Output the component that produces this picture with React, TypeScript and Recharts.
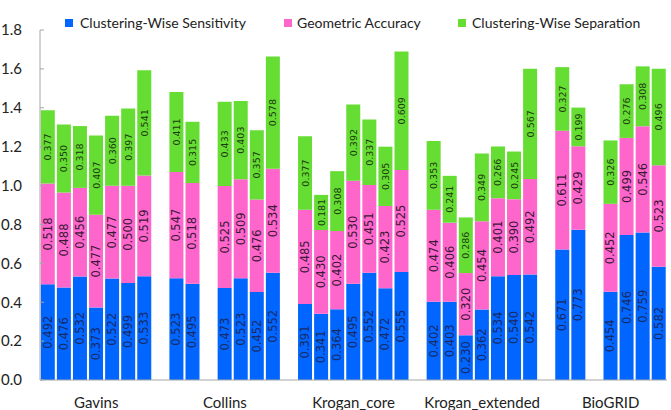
import React from 'react';
import { BarChart, Bar, XAxis, YAxis, LabelList, Legend } from 'recharts';

const groups = ['Gavins', 'Collins', 'Krogan_core', 'Krogan_extended', 'BioGRID'];

const sensitivity: (number | null)[][] = [
  [0.492, 0.476, 0.532, 0.373, 0.522, 0.499, 0.533],
  [0.523, 0.495, null, 0.473, 0.523, 0.452, 0.552],
  [0.391, 0.341, 0.364, 0.495, 0.552, 0.472, 0.555],
  [0.402, 0.403, 0.230, 0.362, 0.534, 0.540, 0.542],
  [0.671, 0.773, null, 0.454, 0.746, 0.759, 0.582],
];

const accuracy: (number | null)[][] = [
  [0.518, 0.488, 0.456, 0.477, 0.477, 0.500, 0.519],
  [0.547, 0.518, null, 0.525, 0.509, 0.476, 0.534],
  [0.485, 0.430, 0.402, 0.530, 0.451, 0.423, 0.525],
  [0.474, 0.406, 0.320, 0.454, 0.401, 0.390, 0.492],
  [0.611, 0.429, null, 0.452, 0.499, 0.546, 0.523],
];

const separation: (number | null)[][] = [
  [0.377, 0.350, 0.318, 0.407, 0.360, 0.397, 0.541],
  [0.411, 0.315, null, 0.433, 0.403, 0.357, 0.578],
  [0.377, 0.181, 0.308, 0.392, 0.337, 0.305, 0.609],
  [0.353, 0.241, 0.286, 0.349, 0.266, 0.245, 0.567],
  [0.327, 0.199, null, 0.326, 0.276, 0.308, 0.496],
];

const yTicks = [0, 0.2, 0.4, 0.6, 0.8, 1.0, 1.2, 1.4, 1.6, 1.8];

const seriesNames = ['Clustering-Wise Sensitivity', 'Geometric Accuracy', 'Clustering-Wise Separation'];
const colors = ['#0066FF', '#FF66CC', '#66DD33'];
const labelColors = ['#1a2a66', '#3a1838', '#1c3a10'];

type Row = { slot: string; label: string; s: number | null; a: number | null; c: number | null };

const data: Row[] = [];
groups.forEach((g, gi) => {
  for (let i = 0; i < 7; i++) {
    data.push({
      slot: `${gi}-${i}`,
      label: i === 3 ? g : '',
      s: sensitivity[gi][i],
      a: accuracy[gi][i],
      c: separation[gi][i],
    });
  }
  if (gi < groups.length - 1) {
    data.push({ slot: `gap-${gi}`, label: '', s: null, a: null, c: null });
  }
});

const labelMap: Record<string, string> = {};
data.forEach((d) => {
  labelMap[d.slot] = d.label;
});

const makeLabel = (color: string, size: number) => (props: any) => {
  const { x, y, width, height, value } = props;
  if (value == null) return null;
  const cx = Number(x) + Number(width) / 2;
  const cy = Number(y) + Number(height) / 2;
  return (
    <text
      x={cx}
      y={cy}
      transform={`rotate(-90, ${cx}, ${cy})`}
      textAnchor="middle"
      dominantBaseline="central"
      fill={color}
      fontSize={size}
      fontFamily="DejaVu Sans"
    >
      {Number(value).toFixed(3)}
    </text>
  );
};

const XTick = (props: any) => {
  const { x, y, payload } = props;
  const text = labelMap[payload.value];
  if (!text) return null;
  return (
    <text x={x} y={y} dy="0.71em" textAnchor="middle" fill="#222" fontSize={15} fontFamily="Lato">
      {text}
    </text>
  );
};

const legendPos = [
  { marker: 65, text: 80 },
  { marker: 284, text: 297 },
  { marker: 458, text: 472 },
];

const LegendContent = () => (
  <div style={{ position: 'relative', width: 671, height: 20 }}>
    {seriesNames.map((n, i) => (
      <React.Fragment key={n}>
        <div
          style={{
            position: 'absolute',
            left: legendPos[i].marker,
            top: 6,
            width: 8,
            height: 8,
            background: colors[i],
          }}
        />
        <div
          style={{
            position: 'absolute',
            left: legendPos[i].text,
            top: 0,
            fontFamily: 'Lato',
            fontSize: 14,
            lineHeight: '20px',
            color: '#222',
            whiteSpace: 'nowrap',
          }}
        >
          {n}
        </div>
      </React.Fragment>
    ))}
  </div>
);

export default function App() {
  return (
    <div style={{ position: 'absolute', left: 0, top: 0, width: 671, height: 410, background: '#fff' }}>
      <BarChart
        width={671}
        height={410}
        data={data}
        margin={{ top: 10, right: 4, bottom: 0, left: 0 }}
        barCategoryGap="5%"
      >
        <XAxis
          dataKey="slot"
          interval={0}
          tick={<XTick />}
          tickLine={false}
          tickMargin={11}
          height={30}
          axisLine={{ stroke: '#A6A6A6' }}
        />
        <YAxis
          type="number"
          domain={[0, 1.8]}
          ticks={yTicks}
          tickFormatter={(v: number) => v.toFixed(1)}
          width={40}
          tickSize={-4}
          tickMargin={22}
          axisLine={{ stroke: '#A6A6A6' }}
          tickLine={{ stroke: '#A6A6A6' }}
          tick={{ fill: '#222', fontSize: 15, fontFamily: 'Lato' }}
        />
        <Legend
          verticalAlign="top"
          content={<LegendContent />}
          wrapperStyle={{ position: 'absolute', top: 13, left: 0, width: 671 }}
        />
        <Bar dataKey="s" name={seriesNames[0]} stackId="x" fill={colors[0]} isAnimationActive={false}>
          <LabelList dataKey="s" content={makeLabel(labelColors[0], 11.5)} />
        </Bar>
        <Bar dataKey="a" name={seriesNames[1]} stackId="x" fill={colors[1]} isAnimationActive={false}>
          <LabelList dataKey="a" content={makeLabel(labelColors[1], 11.5)} />
        </Bar>
        <Bar dataKey="c" name={seriesNames[2]} stackId="x" fill={colors[2]} isAnimationActive={false}>
          <LabelList dataKey="c" content={makeLabel(labelColors[2], 9.5)} />
        </Bar>
      </BarChart>
    </div>
  );
}
